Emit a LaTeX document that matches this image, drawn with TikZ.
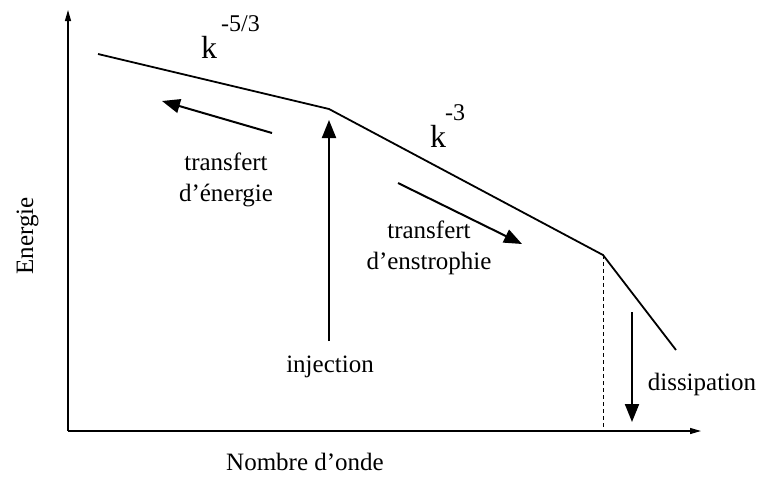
\documentclass[tikz,border=0pt]{standalone}
\usepackage{fontspec}
\setmainfont{Liberation Serif}
\usetikzlibrary{arrows.meta}
\begin{document}
\begin{tikzpicture}[x=1pt,y=-1pt,
  axis/.style={line width=1.2pt,-{Triangle[length=11pt,width=6pt]}},
  curve/.style={line width=1.8pt,line join=miter},
  bigarrow/.style={line width=2pt,-{Triangle[length=18pt,width=14pt]}},
  lbl/.style={font=\fontsize{25}{31}\selectfont,align=center,inner sep=0pt},
  klbl/.style={font=\fontsize{32}{36}\selectfont,inner sep=0pt,anchor=base west},
  suplbl/.style={font=\fontsize{24}{28}\selectfont,inner sep=0pt,anchor=base west}]
\useasboundingbox (0,0) rectangle (759,477);
% axes
\coordinate (O) at (68,431);
\coordinate (Ytop) at (68,10);
\coordinate (Xend) at (701,431);
\draw[axis] (O) -- (Ytop);
\draw[axis] (O) -- (Xend);
% spectrum
\coordinate (p1) at (98,54);
\coordinate (p2) at (329,109);
\coordinate (p3) at (603,255);
\coordinate (p4) at (676,350);
\coordinate (p3b) at (603,431);
\draw[curve] (p1) -- (p2) -- (p3) -- (p4);
\draw[dashed,line width=0.8pt,dash pattern=on 4pt off 3pt] (p3) -- (p3b);
% arrows
\coordinate (inj0) at (329,341);
\coordinate (inj1) at (329,120);
\draw[bigarrow] (inj0) -- (inj1);
\coordinate (te0) at (272,133);
\coordinate (te1) at (162,101);
\draw[bigarrow] (te0) -- (te1);
\coordinate (ts0) at (398,183);
\coordinate (ts1) at (522,244);
\draw[bigarrow] (ts0) -- (ts1);
\coordinate (d0) at (632,312);
\coordinate (d1) at (632,422);
\draw[bigarrow] (d0) -- (d1);
% labels
\node[klbl] (k1) at (201,58) {k};
\node[suplbl] (s1) at (221,31) {-5/3};
\node[klbl] (k2) at (430,147) {k};
\node[suplbl] (s2) at (445,120) {-3};
\node[lbl,anchor=base] (te) at (226,201) {transfert\\d’énergie};
\node[lbl,anchor=base] (ts) at (429,269) {transfert\\d’enstrophie};
\node[lbl,anchor=base] (inj) at (330,372) {injection};
\node[lbl,anchor=base] (dis) at (702,390) {dissipation};
\node[lbl,anchor=base] (xl) at (305,470) {Nombre d’onde};
\node[lbl,anchor=base,rotate=90] (yl) at (33,236) {Energie};
\end{tikzpicture}
\end{document}
